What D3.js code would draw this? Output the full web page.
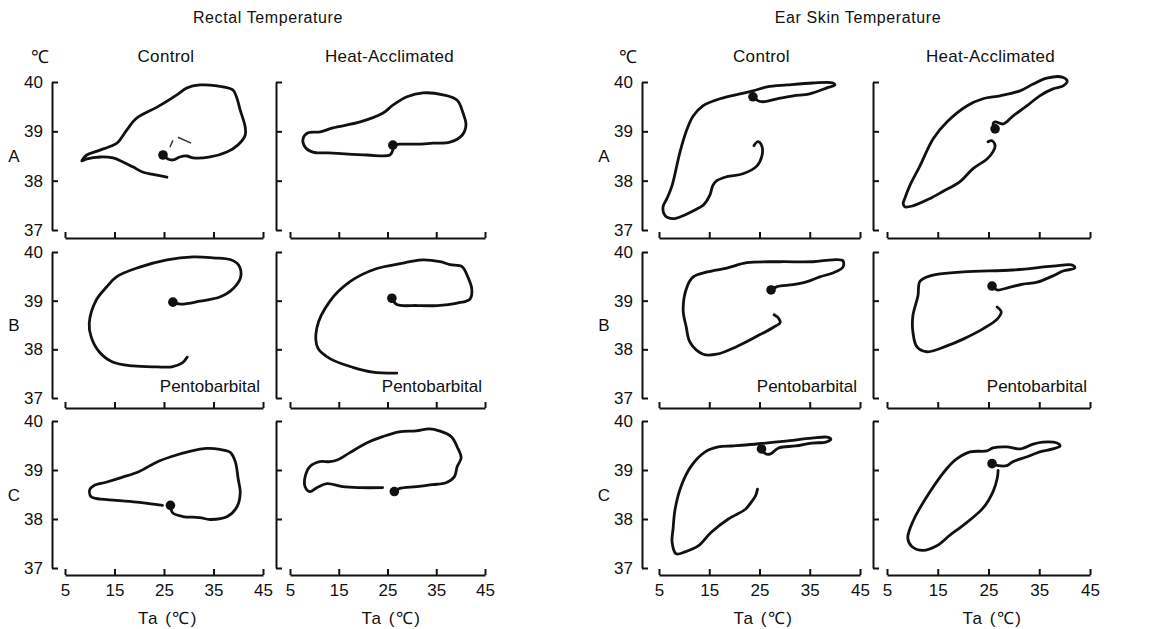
<!DOCTYPE html>
<html>
<head>
<meta charset="utf-8">
<script src="https://cdn.jsdelivr.net/npm/d3@7"></script>
<style>
body { margin: 0; background: #fff; }
text { font-family: "Liberation Sans", Arial, sans-serif; fill: #111; }
</style>
</head>
<body>
<div id="chart"></div>
<script>
var svgWidth = 1159;
var svgHeight = 629;

// tick labels
var xTicks = [5, 15, 25, 35, 45];
var yTicks = [37, 38, 39, 40];
var rowNames = ["A", "B", "C"];
var groupTitles = ["Rectal Temperature", "Ear Skin Temperature"];
var colTitles = ["Control", "Heat-Acclimated", "Control", "Heat-Acclimated"];
var drugLabel = "Pentobarbital";

// traces, [Ta, body temp]
var rectalControlA = [[25.6,38.07],[23.6,38.11],[20.8,38.17],[18.7,38.28],[16.7,38.38],[14.7,38.46],[12.1,38.48],[9.4,38.44],[8.4,38.40],[9.4,38.52],[11.5,38.60],[14.7,38.72],[15.7,38.78],[17.5,39.03],[19.5,39.27],[23.6,39.49],[27.6,39.74],[29.6,39.88],[32.3,39.94],[35.7,39.92],[38.9,39.84],[39.7,39.68],[40.4,39.43],[41.4,39.09],[41.4,38.92],[39.9,38.72],[37.7,38.58],[34.3,38.48],[30.9,38.46],[29.6,38.50],[28.2,38.48],[26.8,38.42],[25.8,38.44],[24.8,38.52]];
var rectalControlADash = [[[26.2,38.68],[26.8,38.82]], [[27.8,38.88],[30.5,38.76]]];
var rectalHeatA = [[26.1,38.72],[26.1,38.62],[25.5,38.52],[20.8,38.52],[13.8,38.56],[9.7,38.58],[8.1,38.68],[7.7,38.86],[8.7,38.97],[11.2,38.99],[13.8,39.07],[19.4,39.19],[24.1,39.37],[26.1,39.53],[29.0,39.70],[32.3,39.78],[36.4,39.74],[39.3,39.63],[40.5,39.37],[41.1,39.13],[40.3,38.92],[37.8,38.78],[34.3,38.76],[31.1,38.74],[27.6,38.74],[26.1,38.72]];
var rectalControlB = [[26.8,38.97],[28.3,38.93],[32.3,38.99],[36.4,39.08],[39.1,39.26],[40.5,39.49],[40.1,39.73],[38.5,39.84],[35.0,39.88],[30.9,39.90],[25.6,39.84],[20.1,39.69],[15.4,39.49],[13.4,39.28],[11.3,39.01],[9.9,38.54],[10.3,38.25],[11.9,37.95],[14.6,37.74],[18.7,37.66],[23.6,37.64],[26.6,37.64],[28.7,37.72],[29.7,37.84]];
var rectalHeatB = [[25.9,39.05],[26.9,38.92],[31.1,38.90],[35.2,38.90],[39.3,38.95],[41.9,39.03],[42.3,39.23],[41.3,39.53],[40.3,39.70],[37.8,39.74],[35.8,39.80],[32.3,39.84],[29.6,39.80],[27.6,39.76],[22.8,39.66],[17.3,39.39],[13.2,38.99],[10.5,38.44],[10.7,38.03],[13.2,37.81],[17.9,37.63],[22.0,37.53],[26.9,37.51]];
var rectalControlC = [[26.3,38.28],[26.7,38.13],[28.8,38.05],[32.2,38.03],[34.3,37.99],[37.8,38.05],[39.8,38.26],[40.4,38.54],[40.0,38.81],[39.4,39.17],[38.4,39.36],[36.3,39.42],[33.7,39.44],[30.2,39.38],[26.7,39.28],[23.5,39.16],[20.0,38.97],[16.5,38.85],[13.3,38.75],[10.8,38.68],[10.0,38.60],[10.2,38.46],[11.2,38.42],[15.3,38.38],[20.0,38.34],[24.7,38.28]];
var rectalHeatC = [[26.4,38.56],[27.4,38.62],[30.9,38.66],[34.2,38.70],[37.0,38.74],[38.7,38.86],[39.3,39.07],[40.1,39.25],[39.3,39.47],[38.1,39.68],[35.6,39.80],[33.6,39.84],[30.9,39.80],[27.4,39.78],[24.0,39.68],[20.7,39.55],[17.2,39.35],[14.8,39.21],[13.2,39.17],[11.1,39.17],[9.1,39.07],[8.1,38.86],[8.1,38.66],[9.1,38.56],[10.5,38.64],[12.6,38.72],[15.8,38.66],[19.3,38.64],[24.0,38.64]];

var earControlA = [[23.9,38.71],[24.7,38.79],[25.5,38.69],[25.5,38.51],[24.5,38.30],[21.7,38.14],[18.5,38.08],[16.5,38.00],[15.7,37.90],[15.1,37.70],[13.8,37.50],[12.6,37.43],[9.8,37.29],[7.8,37.23],[6.2,37.29],[5.8,37.47],[6.6,37.64],[7.6,37.90],[9.2,38.59],[10.6,39.05],[11.8,39.31],[13.8,39.52],[17.1,39.66],[21.1,39.76],[23.7,39.82],[26.5,39.90],[30.5,39.94],[35.6,39.98],[39.6,39.98],[40.0,39.94],[38.4,39.88],[35.0,39.76],[31.7,39.72],[28.5,39.66],[25.7,39.60],[24.7,39.62],[23.7,39.70]];
var earHeatA = [[26.3,39.05],[25.9,39.15],[26.3,39.19],[27.9,39.15],[29.8,39.31],[32.6,39.52],[35.1,39.72],[37.7,39.86],[39.7,39.92],[40.5,40.02],[39.5,40.10],[36.5,40.08],[33.8,39.96],[31.2,39.82],[27.3,39.72],[23.9,39.66],[20.8,39.52],[16.8,39.19],[14.1,38.85],[11.5,38.30],[9.5,37.90],[8.5,37.64],[8.2,37.54],[8.5,37.47],[10.1,37.49],[13.5,37.64],[16.0,37.78],[19.4,37.98],[21.9,38.24],[24.7,38.44],[25.9,38.59],[26.3,38.71],[25.7,38.81],[24.9,38.79]];
var earControlB = [[27.3,39.22],[28.5,39.29],[31.7,39.33],[34.5,39.39],[37.0,39.49],[39.6,39.57],[41.6,39.69],[41.6,39.82],[39.6,39.84],[35.6,39.80],[29.1,39.80],[22.5,39.78],[18.5,39.67],[14.6,39.59],[11.8,39.49],[10.6,39.29],[9.8,38.82],[10.4,38.47],[11.2,38.14],[13.8,37.90],[16.5,37.90],[20.5,38.06],[24.5,38.27],[27.7,38.45],[29.1,38.55],[28.7,38.65],[27.9,38.71]];
var earHeatB = [[25.7,39.30],[26.7,39.22],[28.6,39.26],[31.8,39.34],[34.6,39.38],[37.7,39.51],[39.7,39.61],[42.0,39.67],[41.6,39.73],[37.7,39.71],[29.8,39.63],[20.0,39.59],[13.5,39.51],[11.5,39.40],[11.1,39.10],[10.1,38.69],[10.1,38.36],[10.9,38.05],[12.9,37.95],[16.8,38.07],[20.0,38.21],[23.9,38.42],[26.7,38.62],[27.5,38.77],[26.7,38.87]];
var earControlC = [[25.4,39.43],[26.2,39.33],[27.2,39.33],[28.8,39.45],[32.2,39.49],[35.4,39.55],[38.2,39.57],[39.2,39.63],[38.4,39.67],[35.4,39.65],[30.2,39.59],[26.2,39.55],[22.2,39.51],[19.4,39.49],[16.8,39.47],[14.2,39.37],[11.4,39.08],[9.4,38.67],[8.2,38.20],[7.8,37.80],[7.6,37.53],[8.4,37.29],[10.2,37.33],[12.8,37.45],[15.4,37.73],[18.8,38.00],[22.2,38.20],[23.4,38.35],[24.2,38.47],[24.6,38.61]];
var earHeatC = [[25.7,39.13],[26.9,39.09],[28.6,39.09],[29.8,39.17],[32.6,39.27],[35.1,39.37],[37.7,39.43],[39.1,39.49],[38.5,39.55],[35.7,39.57],[33.8,39.53],[31.2,39.43],[28.6,39.47],[25.9,39.45],[24.7,39.39],[21.4,39.37],[18.8,39.23],[16.8,39.03],[13.5,38.56],[10.1,37.95],[9.1,37.61],[9.9,37.44],[12.1,37.36],[14.9,37.46],[17.4,37.67],[20.0,37.87],[23.9,38.22],[25.9,38.56],[26.7,38.82],[26.9,38.99]];

// start dots
var dotsRectal = [[24.8,38.52],[26.1,38.72],[26.8,38.97],[25.9,39.05],[26.3,38.28],[26.4,38.56]];
var dotsEar = [[23.7,39.70],[26.3,39.05],[27.3,39.22],[25.7,39.30],[25.4,39.43],[25.7,39.13]];

// layout of the 4 columns and 3 rows (pixels)
var cols = [
    {axis: 52, x0: 65, x1: 263},
    {axis: 276, x0: 290, x1: 485},
    {axis: 642, x0: 659, x1: 860},
    {axis: 873, x0: 887, x1: 1090}
];
var rows = [
    {top: 82, bot: 230, base: 238},
    {top: 252, bot: 398, base: 408},
    {top: 421, bot: 568, base: 575}
];

var traces = [
    [rectalControlA, rectalHeatA, earControlA, earHeatA],
    [rectalControlB, rectalHeatB, earControlB, earHeatB],
    [rectalControlC, rectalHeatC, earControlC, earHeatC]
];
var dots = [
    [dotsRectal[0], dotsRectal[1], dotsEar[0], dotsEar[1]],
    [dotsRectal[2], dotsRectal[3], dotsEar[2], dotsEar[3]],
    [dotsRectal[4], dotsRectal[5], dotsEar[4], dotsEar[5]]
];

var svg = d3.select("#chart")
    .append("svg")
    .attr("width", svgWidth)
    .attr("height", svgHeight);

// group titles
svg.append("text").attr("x", 268).attr("y", 23)
    .attr("text-anchor", "middle").attr("font-size", "16px")
    .attr("letter-spacing", "0.6px")
    .text(groupTitles[0]);
svg.append("text").attr("x", 858).attr("y", 23)
    .attr("text-anchor", "middle").attr("font-size", "16px")
    .attr("letter-spacing", "0.6px")
    .text(groupTitles[1]);

// degree signs
[40, 628].forEach(function(xp) {
    svg.append("text").attr("x", xp).attr("y", 63)
        .attr("text-anchor", "middle").attr("font-size", "18px")
        .text("\u2103");
});

// column titles
cols.forEach(function(c, i) {
    svg.append("text")
        .attr("x", (c.x0 + c.x1) / 2 + 2)
        .attr("y", 62)
        .attr("text-anchor", "middle")
        .attr("font-size", "17px")
        .attr("letter-spacing", "0.3px")
        .text(colTitles[i]);
});

var line = d3.line()
    .curve(d3.curveCatmullRom.alpha(0.5));

rows.forEach(function(r, ri) {
    cols.forEach(function(c, ci) {
        var xScale = d3.scaleLinear().domain([5, 45]).range([c.x0, c.x1]);
        var yScale = d3.scaleLinear().domain([37, 40]).range([r.bot, r.top]);
        var g = svg.append("g");

        // y axis
        var yAxis = g.append("g")
            .attr("transform", `translate(${c.axis},0)`)
            .call(d3.axisLeft(yScale)
                .tickValues(yTicks)
                .tickSize(-6)
                .tickSizeOuter(0)
                .tickPadding(9)
                .tickFormat(ci % 2 === 0 ? d3.format("d") : ""));

        // x axis
        var xAxis = g.append("g")
            .attr("transform", `translate(0,${r.base})`)
            .call(d3.axisBottom(xScale)
                .tickValues(xTicks)
                .tickSize(-6)
                .tickSizeOuter(0)
                .tickPadding(9)
                .tickFormat(ri === 2 ? d3.format("d") : ""));

        [yAxis, xAxis].forEach(function(a) {
            a.attr("font-family", null).attr("font-size", null);
            a.select(".domain").attr("stroke", "#111").attr("stroke-width", 2);
            a.selectAll(".tick line").attr("stroke", "#111").attr("stroke-width", 2);
            a.selectAll(".tick text").attr("font-size", "17px").attr("fill", "#111");
        });

        line.x(d => xScale(d[0])).y(d => yScale(d[1]));

        g.append("path")
            .datum(traces[ri][ci])
            .attr("d", line)
            .attr("fill", "none")
            .attr("stroke", "#111")
            .attr("stroke-width", 2.8)
            .attr("stroke-linejoin", "round")
            .attr("stroke-linecap", "round");

        if (ri === 0 && ci === 0) {
            rectalControlADash.forEach(function(seg) {
                g.append("path")
                    .datum(seg)
                    .attr("d", d3.line().x(d => xScale(d[0])).y(d => yScale(d[1])))
                    .attr("fill", "none")
                    .attr("stroke", "#333")
                    .attr("stroke-width", 1.4);
            });
        }

        g.append("circle")
            .attr("cx", xScale(dots[ri][ci][0]))
            .attr("cy", yScale(dots[ri][ci][1]))
            .attr("r", 4.8)
            .attr("fill", "#111");

        // row letter
        if (ci % 2 === 0) {
            svg.append("text")
                .attr("x", c.axis - 38)
                .attr("y", yScale(38.5) + 6)
                .attr("text-anchor", "middle")
                .attr("font-size", "17px")
                .text(rowNames[ri]);
        }

        if (ri === 1) {
            svg.append("text")
                .attr("x", c.x1 - 3)
                .attr("y", r.bot - 6)
                .attr("text-anchor", "end")
                .attr("font-size", "17px")
                .text(drugLabel);
        }

        if (ri === 2) {
            svg.append("text")
                .attr("x", (c.x0 + c.x1) / 2 + 4)
                .attr("y", 624)
                .attr("text-anchor", "middle")
                .attr("font-size", "17px")
                .attr("letter-spacing", "1.5px")
                .text("Ta (\u2103)");
        }
    });
});
</script>
</body>
</html>
